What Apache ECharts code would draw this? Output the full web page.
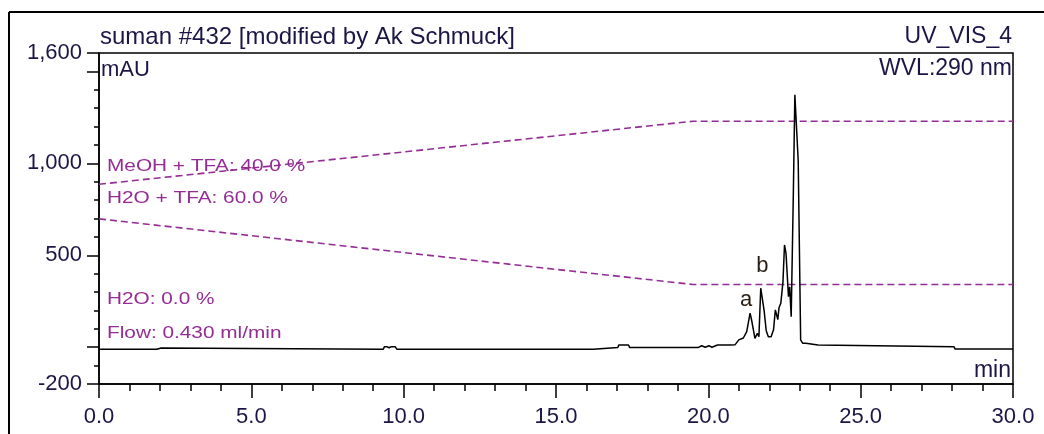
<!DOCTYPE html>
<html>
<head>
<meta charset="utf-8">
<script src="https://cdn.jsdelivr.net/npm/echarts@6/dist/echarts.min.js"></script>
<style>
  html, body { margin: 0; padding: 0; background: #fff; }
  #chart { width: 1044px; height: 434px; }
</style>
</head>
<body>
<div id="chart"></div>
<script>
// Chromatogram trace: [retention time (min), absorbance (mAU)]
const signal = [
  [0, -11], [1.9, -11], [1.94, -4], [2.04, -4], [2.08, -11],
  [9.33, -11], [9.37, 3], [9.45, 3], [9.52, -3], [9.6, 3], [9.72, 3], [9.78, -11],
  [16.23, -11], [16.27, -2], [17.03, -2], [17.06, 12], [17.38, 12], [17.42, -2],
  [19.66, -2], [19.7, 8], [19.78, 8], [19.83, 0], [19.9, 0], [19.95, 8], [20.02, 8],
  [20.07, 0], [20.12, 0], [20.17, 8], [20.3, 12], [20.74, 12],
  [20.8, 8], [20.88, 14], [21.0, 40], [21.15, 50], [21.26, 85], [21.37, 185],
  [21.42, 148], [21.53, 48], [21.61, 76], [21.66, 57], [21.72, 321], [21.76, 321],
  [21.83, 200], [21.9, 90], [21.97, 57], [22.06, 57], [22.14, 95], [22.2, 203],
  [22.28, 150], [22.32, 215], [22.38, 240], [22.45, 357], [22.5, 556], [22.55, 510],
  [22.63, 275], [22.67, 329], [22.72, 166], [22.77, 166], [22.79, 834], [22.84, 1373],
  [22.9, 1373], [22.95, 1014], [23.0, 1014], [23.03, 40], [23.1, 21], [23.2, 21],
  [23.22, 12], [23.6, 12], [23.63, 3], [28.06, 3], [28.1, -10], [30, -10]
];

// Gradient programme traces, plotted on the signal scale
const meohTrace = [[0, 886], [19.5, 1229], [30, 1229]];
const waterTfaTrace = [[0, 698], [19.5, 341], [30, 341]];

// Peak letters and the retention times they mark
const peakNames = ['a', 'b'];
const peakTimes = [21.37, 21.74];

// Axis ticks and labels
const xMajorStep = 5;
const xMinorStep = 1;
const yMinorStep = 100;
const yMajorTicks = [1600, 1500, 1000, 500, 0, -200];
const yLabelValues = [1600, 1000, 500, -200];

// Method / run annotations
const methodLines = ['MeOH + TFA: 40.0 %', 'H2O + TFA: 60.0 %', 'H2O: 0.0 %', 'Flow: 0.430 ml/min'];
const runTitle = 'suman #432 [modified by Ak Schmuck]';
const channelName = 'UV_VIS_4';
const wavelength = 'WVL:290 nm';

const ink = '#000';
const labelInk = '#1b1646';
const gradInk = '#952c95';
const font = 'Liberation Sans, Arial, sans-serif';

function valueAt(t) {
  let best = signal[0];
  for (const p of signal) if (Math.abs(p[0] - t) < Math.abs(best[0] - t)) best = p;
  return best[1];
}

const chart = echarts.init(document.getElementById('chart'), null, { renderer: 'canvas' });

const axisLine = { onZero: false, lineStyle: { color: ink, width: 1.5 } };
const tickLine = { color: ink, width: 1.5 };

const methodY = [166.7, 198, 299, 333];

chart.setOption({
  backgroundColor: '#fff',
  animation: false,
  grid: {
    left: 99, top: 53, right: 31, bottom: 50,
    show: true, borderColor: ink, borderWidth: 1.5, backgroundColor: 'transparent',
    outerBoundsMode: 'none'
  },
  xAxis: [
    {
      type: 'value', min: 0, max: 30, interval: xMinorStep, position: 'bottom',
      axisLine: axisLine,
      axisTick: { length: 7, lineStyle: tickLine },
      axisLabel: { show: false },
      splitLine: { show: false }
    },
    {
      type: 'value', min: 0, max: 30, interval: xMajorStep, position: 'bottom',
      axisLine: { show: false, onZero: false },
      axisTick: { length: 14, lineStyle: tickLine },
      axisLabel: {
        formatter: v => v.toFixed(1), fontSize: 22, fontFamily: font,
        color: labelInk, margin: 22
      },
      splitLine: { show: false }
    }
  ],
  yAxis: [
    {
      type: 'value', min: -200, max: 1600, interval: yMinorStep, position: 'left',
      axisLine: Object.assign({ show: true }, axisLine),
      axisTick: { length: 5, lineStyle: tickLine },
      axisLabel: { show: false },
      splitLine: { show: false }
    },
    {
      type: 'value', min: -200, max: 1600, interval: yMinorStep, position: 'left',
      axisLine: { show: false, onZero: false },
      axisTick: { length: 12, lineStyle: tickLine, customValues: yMajorTicks },
      axisLabel: {
        customValues: yLabelValues,
        formatter: v => v.toLocaleString('en-US'),
        fontSize: 22, fontFamily: font, color: labelInk, margin: 17
      },
      splitLine: { show: false }
    }
  ],
  series: [
    {
      name: 'MeOH + TFA', type: 'line', data: meohTrace, showSymbol: false,
      xAxisIndex: 0, yAxisIndex: 0, silent: true,
      lineStyle: { color: gradInk, width: 1.6, type: [7, 4] }
    },
    {
      name: 'H2O + TFA', type: 'line', data: waterTfaTrace, showSymbol: false,
      xAxisIndex: 0, yAxisIndex: 0, silent: true,
      lineStyle: { color: gradInk, width: 1.6, type: [7, 4] }
    },
    {
      name: channelName, type: 'line', data: signal, showSymbol: false,
      xAxisIndex: 0, yAxisIndex: 0, silent: true,
      lineStyle: { color: ink, width: 1.5 },
      markPoint: {
        symbol: 'circle', symbolSize: 0, silent: true,
        label: { show: true, position: 'inside', fontSize: 22, fontFamily: font, color: '#2a1e14' },
        data: peakNames.map((n, i) => ({
          name: n,
          coord: [peakTimes[i], valueAt(peakTimes[i])],
          label: { formatter: n, offset: i === 0 ? [-4, -13] : [1, -22] }
        }))
      }
    }
  ],
  graphic: [
    // outer frame
    { type: 'line', shape: { x1: 9, y1: 12, x2: 9, y2: 440 }, style: { stroke: ink, lineWidth: 2 }, silent: true },
    { type: 'line', shape: { x1: 9, y1: 12, x2: 1050, y2: 12 }, style: { stroke: ink, lineWidth: 2 }, silent: true },
    { type: 'text', x: 100, y: 37, style: { text: runTitle, font: '24px ' + font, fill: labelInk, verticalAlign: 'middle' } },
    { type: 'text', x: 1012, y: 37, style: { text: channelName, font: '23px ' + font, fill: labelInk, align: 'right', verticalAlign: 'middle' } },
    { type: 'text', x: 101, y: 70, style: { text: 'mAU', font: '22px ' + font, fill: labelInk, verticalAlign: 'middle' } },
    { type: 'text', x: 1012, y: 69, style: { text: wavelength, font: '23px ' + font, fill: labelInk, align: 'right', verticalAlign: 'middle' } },
    { type: 'text', x: 1011, y: 371, style: { text: 'min', font: '23px ' + font, fill: labelInk, align: 'right', verticalAlign: 'middle' } }
  ].concat(methodLines.map((t, i) => ({
    type: 'text', x: 107, y: methodY[i], scaleX: 1.26,
    style: { text: t, font: '16.5px ' + font, fill: gradInk, verticalAlign: 'middle' }
  })))
});
</script>
</body>
</html>
